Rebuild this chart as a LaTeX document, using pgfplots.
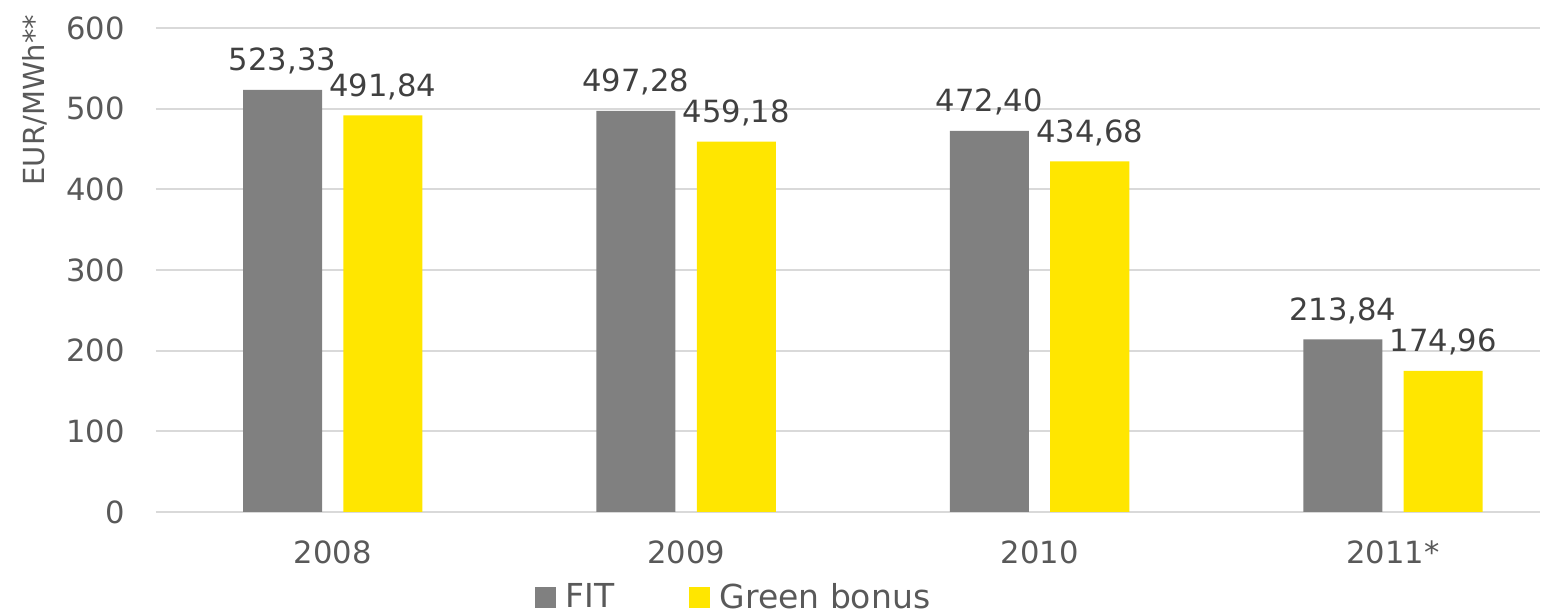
\documentclass[border=0pt]{standalone}
\usepackage{fontspec}
\setmainfont{DejaVu Sans}
\usepackage{pgfplots}
\pgfplotsset{compat=1.18}
\definecolor{fitgray}{HTML}{808080}
\definecolor{eyyellow}{HTML}{FFE600}
\definecolor{gridc}{HTML}{D9D9D9}
\definecolor{ticktxt}{HTML}{595959}
\definecolor{valtxt}{HTML}{404040}
\begin{document}
\begin{tikzpicture}
\begin{axis}[name=ax, at={(0,0)}, anchor=south west,
  scale only axis, width=692pt, height=242pt,
  xmin=-0.5, xmax=3.416, ymin=0, ymax=600,
  ytick={0,100,...,600}, xtick={0,1,2,3},
  xticklabels={2008,2009,2010,2011*},
  axis line style={draw=none}, major tick length=0pt,
  ymajorgrids, grid style={gridc, line width=1pt},
  /pgf/number format/assume math mode=true,
  ticklabel style={font=\fontsize{15.3}{18}\selectfont, text=ticktxt},
  yticklabel style={anchor=east, inner sep=0pt, xshift=-15.5pt},
  xticklabel style={anchor=north, inner sep=0pt, yshift=-14pt},
  ylabel={EUR/MWh**},
  ylabel style={at={(rel axis cs:-0.0874,0.851)}, anchor=center, font=\fontsize{14.5}{17}\selectfont, text=ticktxt},
  ybar, bar width=0.2236,
  point meta=explicit symbolic,
  nodes near coords,
  every node near coord/.append style={anchor=south, inner sep=0pt, yshift=7.5pt, font=\fontsize{15.3}{18}\selectfont, text=valtxt},
  legend columns=2,
  legend style={at={(0.418,-0.176)}, anchor=center, draw=none, fill=none,
    font=\fontsize{16.5}{19}\selectfont, text=ticktxt,
    /tikz/every odd column/.append style={column sep=3pt},
    /tikz/every even column/.append style={column sep=35pt}},
  legend image code/.code={\fill[#1] (0pt,-5.25pt) rectangle (10.5pt,5.25pt);},
]
\addplot[fill=fitgray, draw=none, bar shift=-0.142] coordinates {
  (0,523.33) [523,33]
  (1,497.28) [497,28]
  (2,472.40) [472,40]
  (3,213.84) [213,84]
};
\addlegendentry{FIT}
\addplot[fill=eyyellow, draw=none, bar shift=0.142] coordinates {
  (0,491.84) [491,84]
  (1,459.18) [459,18]
  (2,434.68) [434,68]
  (3,174.96) [174,96]
};
\addlegendentry{Green bonus}
\end{axis}
\pgfresetboundingbox
\path[use as bounding box] (-78pt,-51pt) rectangle (699pt,256pt);
\end{tikzpicture}
\end{document}
